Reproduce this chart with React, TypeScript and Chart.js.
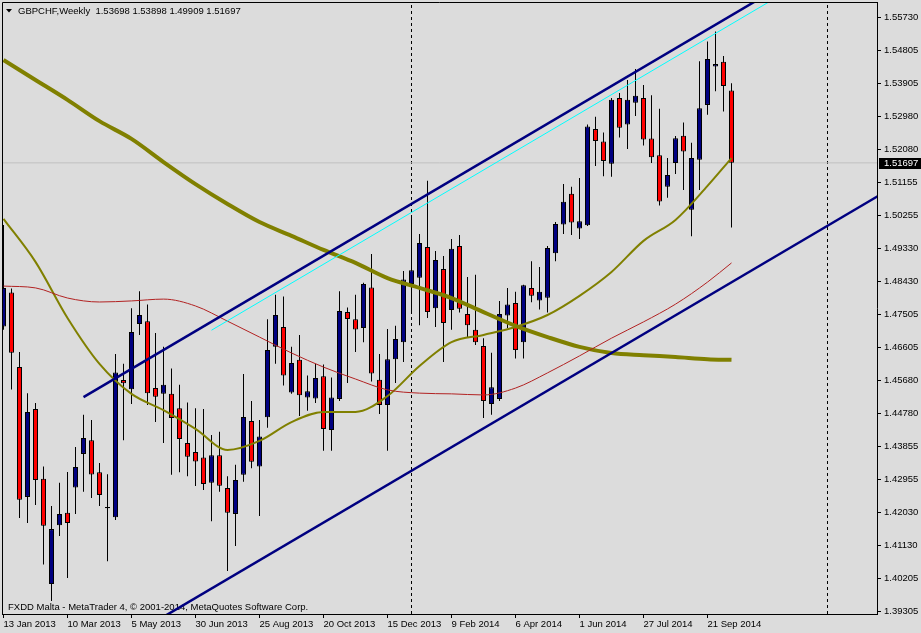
import React, { useEffect, useRef } from "react";
import { Chart, registerables } from "chart.js";
Chart.register(...registerables);

// Weekly GBPCHF candles, bar 0 = week of 13 Jan 2013
const opens = [1.4717,1.4811,1.4605,1.4246,1.4489,1.4296,1.4005,1.4168,1.4202,1.4272,1.4365,1.4403,1.4314,1.4218,1.4190,1.4569,1.4544,1.4724,1.4732,1.4547,1.4531,1.4531,1.4491,1.4395,1.4370,1.4355,1.4285,1.4361,1.4271,1.4199,1.4307,1.4456,1.4330,1.4466,1.4661,1.4716,1.4535,1.4625,1.4521,1.4518,1.4580,1.4431,1.4517,1.4757,1.4737,1.4713,1.4825,1.4570,1.4500,1.4627,1.4674,1.4835,1.4852,1.4937,1.4768,1.4876,1.4763,1.4940,1.4752,1.4708,1.4663,1.4503,1.4517,1.4748,1.4782,1.4674,1.4824,1.4789,1.4797,1.4920,1.4999,1.5084,1.4988,1.4997,1.5263,1.5229,1.5167,1.5349,1.5276,1.5336,1.5349,1.5237,1.5191,1.5104,1.5169,1.5245,1.5040,1.5178,1.5330,1.5436,1.5449,1.53698];
const highs = [1.4998,1.4822,1.4647,1.4533,1.4506,1.4330,1.4221,1.4285,1.4315,1.4384,1.4473,1.4459,1.4340,1.4309,1.4641,1.4614,1.4768,1.4815,1.4778,1.4699,1.4661,1.4601,1.4556,1.4507,1.4491,1.4489,1.4417,1.4426,1.4303,1.4335,1.4586,1.4511,1.4459,1.4737,1.4805,1.4800,1.4661,1.4694,1.4582,1.4614,1.4612,1.4576,1.4815,1.4770,1.4805,1.4838,1.4918,1.4641,1.4710,1.4719,1.4871,1.5019,1.4973,1.5120,1.4926,1.4912,1.4959,1.4970,1.4854,1.4860,1.4685,1.4645,1.4788,1.4824,1.4813,1.4833,1.4898,1.4882,1.4940,1.5006,1.5111,1.5104,1.5128,1.5276,1.5297,1.5254,1.5349,1.5363,1.5399,1.5429,1.5385,1.5357,1.5319,1.5183,1.5244,1.5281,1.5225,1.5451,1.5505,1.5533,1.5465,1.53898];
const lows = [1.4708,1.4543,1.4188,1.4174,1.4224,1.4059,1.3958,1.4138,1.4022,1.4199,1.4260,1.4243,1.4221,1.4068,1.4182,1.4403,1.4503,1.4694,1.4500,1.4453,1.4395,1.4307,1.4314,1.4303,1.4276,1.4265,1.4179,1.4260,1.4041,1.4110,1.4288,1.4325,1.4193,1.4437,1.4614,1.4554,1.4531,1.4470,1.4484,1.4506,1.4374,1.4374,1.4511,1.4561,1.4647,1.4674,1.4565,1.4475,1.4374,1.4561,1.4619,1.4757,1.4721,1.4741,1.4716,1.4619,1.4708,1.4756,1.4688,1.4666,1.4464,1.4473,1.4511,1.4713,1.4629,1.4629,1.4784,1.4764,1.4756,1.4898,1.4973,1.4970,1.4959,1.4995,1.5161,1.5133,1.5131,1.5240,1.5208,1.5299,1.5218,1.5169,1.5052,1.5073,1.5139,1.5095,1.4967,1.5095,1.5303,1.5368,1.5312,1.49909];
const closes = [1.4824,1.4645,1.4238,1.4481,1.4293,1.4166,1.4157,1.4199,1.4174,1.4329,1.4409,1.4308,1.4251,1.4215,1.4590,1.4560,1.4702,1.4749,1.4533,1.4523,1.4556,1.4464,1.4406,1.4357,1.4344,1.4282,1.4361,1.4277,1.4202,1.4293,1.4467,1.4343,1.4413,1.4652,1.4749,1.4582,1.4616,1.4527,1.4538,1.4575,1.4434,1.4521,1.4760,1.4738,1.4709,1.4835,1.4587,1.4500,1.4627,1.4683,1.4847,1.4873,1.4948,1.4757,1.4901,1.4727,1.4932,1.4766,1.4721,1.4674,1.4511,1.4549,1.4752,1.4778,1.4652,1.4831,1.4802,1.4813,1.4934,1.5001,1.5062,1.5005,1.5008,1.5270,1.5230,1.5175,1.5344,1.5267,1.5344,1.5355,1.5234,1.5185,1.5063,1.5136,1.5238,1.5201,1.5183,1.5321,1.5457,1.5443,1.5382,1.51697];

// Moving averages, read at every 4th bar (and the last bar)
const maBars = [0,4,8,12,16,20,24,28,32,36,40,44,48,52,56,60,64,68,72,76,80,84,88,91];
const maSlow = [1.5454,1.5399,1.5344,1.5285,1.5236,1.5172,1.5111,1.5056,1.5006,1.4968,1.4929,1.4893,1.4851,1.4824,1.4796,1.4757,1.4719,1.4688,1.4661,1.4644,1.4638,1.4633,1.4627,1.4625];
const maFast = [1.5015,1.4896,1.4741,1.4614,1.4531,1.4486,1.4434,1.4376,1.4401,1.4453,1.4481,1.4481,1.4525,1.4608,1.4674,1.4694,1.4716,1.4749,1.4802,1.4868,1.4954,1.5012,1.5106,1.5183];
const maMid = [1.4829,1.4824,1.4796,1.4785,1.4788,1.4793,1.4774,1.4732,1.4688,1.4644,1.4605,1.4572,1.4542,1.4533,1.4531,1.4528,1.4547,1.4589,1.4636,1.4685,1.4730,1.4779,1.4840,1.4893];

// Trend channel anchor points [bar, price]
const upperChannel = [[10, 1.4522], [100, 1.5695]];
const cyanLine = [[26, 1.4707], [100, 1.5671]];
const lowerChannel = [[0, 1.3654], [110, 1.5087]];
const separators = [51, 103];
const bidPrice = 1.51697;

const xTickBars = [0, 8, 16, 24, 32, 40, 48, 56, 64, 72, 80, 88];
const xTickLabels = ["13 Jan 2013","10 Mar 2013","5 May 2013","30 Jun 2013","25 Aug 2013","20 Oct 2013","15 Dec 2013","9 Feb 2014","6 Apr 2014","1 Jun 2014","27 Jul 2014","21 Sep 2014"];
const yTicks = [1.55730,1.54805,1.53905,1.52980,1.52080,1.51155,1.50255,1.49330,1.48430,1.47505,1.46605,1.45680,1.44780,1.43855,1.42955,1.42030,1.41130,1.40205,1.39305];

const titleText = "GBPCHF,Weekly  1.53698 1.53898 1.49909 1.51697";
const footerText = "FXDD Malta - MetaTrader 4, \u00a9 2001-2014, MetaQuotes Software Corp.";

const Y_MIN = 1.39223;
const Y_MAX = 1.56145;
const X_MIN = -0.1875;
const X_MAX = 109.1875;

const FONT = "'Liberation Sans', Arial, sans-serif";
const FS = 9.5;
const BG = "#DCDCDC";
const BULL = "#000080";
const BEAR = "#FF0000";

export default function App() {
  const ref = useRef<HTMLCanvasElement>(null);
  useEffect(() => {
    document.body.style.margin = "0";
    const canvas = ref.current;
    if (!canvas) return;

    const wicks = opens.map((_, i) => ({ x: i, y: [lows[i], highs[i]] }));
    const bodies = opens.map((o, i) => ({ x: i, y: [o, closes[i]] }));
    const bodyColors = opens.map((o, i) => (closes[i] > o ? BULL : BEAR));
    const toPts = (vals: number[]) => vals.map((v, k) => ({ x: maBars[k], y: v }));
    const seg = (p: number[][]) => p.map(([x, y]) => ({ x, y }));

    const deco = {
      id: "mt4deco",
      beforeDraw(chart: any) {
        const c = chart.ctx;
        c.save();
        c.fillStyle = BG;
        c.fillRect(0, 0, chart.width, chart.height);
        c.restore();
      },
      beforeDatasetsDraw(chart: any) {
        const c = chart.ctx;
        c.save();
        c.fillStyle = "#000";
        c.beginPath();
        c.moveTo(6, 9);
        c.lineTo(12, 9);
        c.lineTo(9, 12.5);
        c.closePath();
        c.fill();
        c.font = `${FS}px ${FONT}`;
        c.textBaseline = "middle";
        c.textAlign = "left";
        c.fillText(titleText, 18, 11);
        c.fillText(footerText, 8, 607);
        c.restore();
      },
      afterDraw(chart: any) {
        const c = chart.ctx;
        const a = chart.chartArea;
        const y = chart.scales.y.getPixelForValue(bidPrice);
        c.save();
        c.strokeStyle = "#000";
        c.lineWidth = 1;
        c.beginPath();
        c.moveTo(a.left + 0.5, a.bottom);
        c.lineTo(a.left + 0.5, a.top + 0.5);
        c.lineTo(a.right, a.top + 0.5);
        c.stroke();
        c.fillStyle = "#000";
        c.fillRect(879, Math.round(y) - 5, 42, 11);
        c.fillStyle = "#fff";
        c.font = `${FS}px ${FONT}`;
        c.textBaseline = "middle";
        c.textAlign = "left";
        c.fillText(bidPrice.toFixed(5), 884, Math.round(y) + 0.5);
        c.restore();
      },
    };

    const chart = new Chart(canvas, {
      type: "line",
      data: {
        datasets: [
          ...separators.map((s) => ({
            type: "line" as const,
            data: [{ x: s, y: Y_MIN }, { x: s, y: Y_MAX }],
            borderColor: "#000",
            borderWidth: 1,
            borderDash: [3, 3],
            pointRadius: 0,
            order: 20,
          })),
          {
            type: "line" as const,
            data: [{ x: X_MIN, y: bidPrice }, { x: X_MAX, y: bidPrice }],
            borderColor: "#C0C0C0",
            borderWidth: 1,
            pointRadius: 0,
            order: 15,
          },
          {
            type: "bar" as const,
            data: wicks as any,
            backgroundColor: "#000",
            borderWidth: 0,
            grouped: false,
            categoryPercentage: 1,
            barPercentage: 0.125,
            order: 12,
          },
          {
            type: "bar" as const,
            data: bodies as any,
            backgroundColor: bodyColors,
            borderColor: "#000",
            borderWidth: 1,
            borderSkipped: false,
            grouped: false,
            categoryPercentage: 1,
            barPercentage: 0.625,
            minBarLength: 1,
            order: 11,
          },
          {
            type: "line" as const,
            data: toPts(maSlow),
            borderColor: "#808000",
            borderWidth: 4,
            pointRadius: 0,
            cubicInterpolationMode: "monotone",
            order: 6,
          },
          {
            type: "line" as const,
            data: toPts(maFast),
            borderColor: "#808000",
            borderWidth: 2,
            pointRadius: 0,
            cubicInterpolationMode: "monotone",
            order: 5,
          },
          {
            type: "line" as const,
            data: toPts(maMid),
            borderColor: "#B22222",
            borderWidth: 1,
            pointRadius: 0,
            cubicInterpolationMode: "monotone",
            order: 4,
          },
          {
            type: "line" as const,
            data: seg(upperChannel),
            borderColor: BULL,
            borderWidth: 2.5,
            pointRadius: 0,
            order: 2,
          },
          {
            type: "line" as const,
            data: seg(cyanLine),
            borderColor: "#00FFFF",
            borderWidth: 1,
            pointRadius: 0,
            order: 3,
          },
          {
            type: "line" as const,
            data: seg(lowerChannel),
            borderColor: BULL,
            borderWidth: 2.5,
            pointRadius: 0,
            order: 2,
          },
        ] as any,
      },
      options: {
        animation: false,
        responsive: false,
        maintainAspectRatio: false,
        events: [],
        layout: { padding: { left: 2, top: 2, right: 0, bottom: 0 } },
        plugins: { legend: { display: false }, tooltip: { enabled: false } },
        scales: {
          x: {
            type: "linear",
            min: X_MIN,
            max: X_MAX,
            bounds: "data",
            offset: false,
            afterFit: (s: any) => {
              s.height = 19;
              s.paddingLeft = 0;
              s.paddingRight = 0;
              s.paddingTop = 0;
              s.paddingBottom = 0;
            },
            afterBuildTicks: (s: any) => { s.ticks = xTickBars.map((v) => ({ value: v })); },
            grid: { display: true, offset: false, drawOnChartArea: false, drawTicks: true, tickLength: 4, color: "#000" },
            border: { display: true, color: "#000" },
            ticks: {
              autoSkip: false,
              maxRotation: 0,
              minRotation: 0,
              align: "start",
              padding: 1,
              color: "#000",
              font: { family: FONT, size: FS },
              callback: (_v: any, i: number) => xTickLabels[i],
            },
          },
          y: {
            type: "linear",
            position: "right",
            min: Y_MIN,
            max: Y_MAX,
            bounds: "data",
            beginAtZero: false,
            afterFit: (s: any) => {
              s.width = 44;
              s.paddingLeft = 0;
              s.paddingRight = 0;
              s.paddingTop = 0;
              s.paddingBottom = 0;
            },
            afterBuildTicks: (s: any) => { s.ticks = yTicks.map((v) => ({ value: v })); },
            grid: { display: true, drawOnChartArea: false, drawTicks: true, tickLength: 4, color: "#000" },
            border: { display: true, color: "#000" },
            ticks: {
              autoSkip: false,
              padding: 3,
              color: "#000",
              font: { family: FONT, size: FS },
              callback: (v: any) => Number(v).toFixed(5),
            },
          },
        },
      } as any,
      plugins: [deco],
    });
    return () => chart.destroy();
  }, []);

  return (
    <div style={{ position: "fixed", left: 0, top: 0, width: 921, height: 633, background: BG }}>
      <canvas ref={ref} width={921} height={633} style={{ display: "block", width: 921, height: 633 }} />
    </div>
  );
}
